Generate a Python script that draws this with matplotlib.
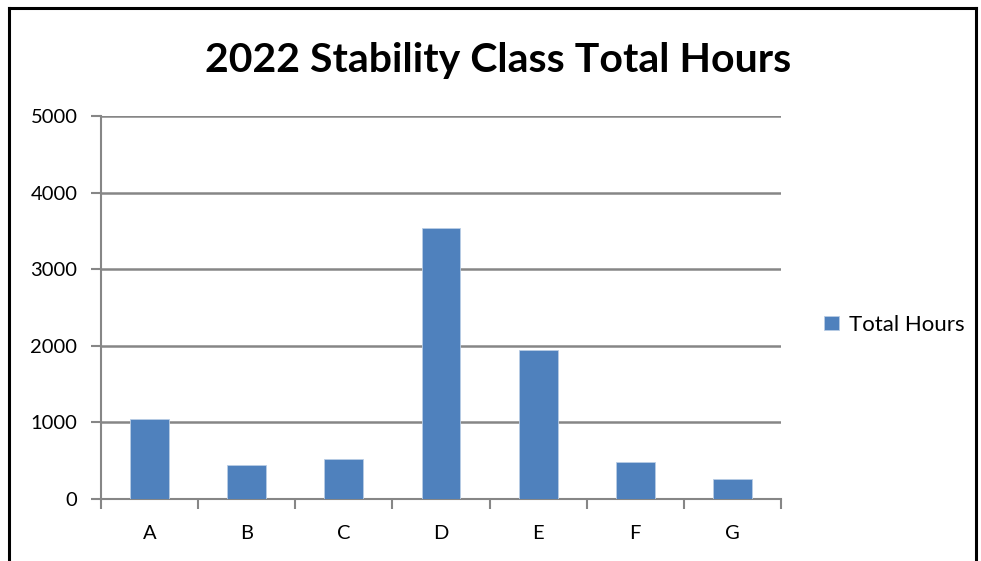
import matplotlib.pyplot as plt
from matplotlib.lines import Line2D

plt.rcParams["font.family"] = ["Lato", "DejaVu Sans"]

# values
classes = ["A", "B", "C", "D", "E", "F", "G"]
total_hours = [1043, 450, 528, 3545, 1947, 482, 256]
series_name = "Total Hours"

BAR = "#4f81bd"
AXIS = "#868686"


def main():
    fig = plt.figure(figsize=(9.81, 5.61), dpi=100)
    ax = fig.add_axes([0.103, 0.1105, 0.693, 0.6825])

    xs = range(len(classes))
    ax.bar(xs, total_hours, width=0.4, color=BAR, edgecolor="#b9cde5",
           linewidth=0.6, label=series_name, zorder=3)

    ax.set_xlim(-0.5, len(classes) - 0.5)
    ax.set_ylim(0, 5000)
    ax.set_yticks(range(0, 5001, 1000))
    ax.set_xticks(list(xs))
    ax.set_xticklabels(classes)
    ax.set_xticks([i + 0.5 for i in range(-1, len(classes))], minor=True)

    ax.yaxis.grid(True, color=AXIS, linewidth=1.8, zorder=0)
    for side in ("top", "right"):
        ax.spines[side].set_visible(False)
    for side in ("left", "bottom"):
        ax.spines[side].set_color(AXIS)
        ax.spines[side].set_linewidth(1.5)

    ax.tick_params(axis="x", which="major", length=0, pad=19, labelsize=14.5)
    ax.tick_params(axis="x", which="minor", length=7, width=1.5, color=AXIS)
    ax.tick_params(axis="y", length=7, width=1.5, color=AXIS, pad=10,
                   labelsize=14.5)

    fig.text(0.508, 0.893, "2022 Stability Class Total Hours", ha="center",
             va="center", fontsize=29.5, fontweight="bold")

    fig.legend(loc="center left", bbox_to_anchor=(0.82, 0.421),
               frameon=False, fontsize=16, handlelength=0.65,
               handleheight=0.65, handletextpad=0.45)

    # black frame around the chart (bottom edge cut off in the screenshot)
    kw = dict(color="black", linewidth=2.2, transform=fig.transFigure)
    fig.add_artist(Line2D([0.009, 0.009], [-0.1, 0.986], **kw))
    fig.add_artist(Line2D([0.009, 0.995], [0.986, 0.986], **kw))
    fig.add_artist(Line2D([0.995, 0.995], [-0.1, 0.986], **kw))

    fig.savefig("out.png", dpi=100)


if __name__ == "__main__":
    main()
